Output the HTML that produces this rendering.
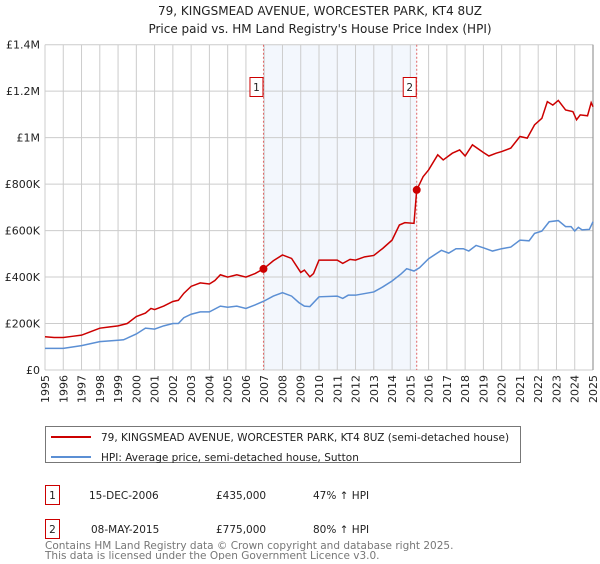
<!DOCTYPE html>
<html><head><meta charset="utf-8"><style>
body{margin:0;background:#fff;font-family:"DejaVu Sans","Liberation Sans",sans-serif;}
svg text{font-family:"DejaVu Sans","Liberation Sans",sans-serif;}
</style></head><body>
<svg id="chart" width="600" height="560" xmlns="http://www.w3.org/2000/svg">
<text x="320" y="15" text-anchor="middle" font-size="12" fill="#222">79, KINGSMEAD AVENUE, WORCESTER PARK, KT4 8UZ</text>
<text x="320" y="33" text-anchor="middle" font-size="12" fill="#222">Price paid vs. HM Land Registry's House Price Index (HPI)</text>
<g id="plot"></g>
<g>
<rect x="45.5" y="426.5" width="475" height="36" fill="#fff" stroke="#777"/>
<line x1="51" y1="437" x2="91" y2="437" stroke="#cc0000" stroke-width="2"/>
<text x="101" y="441" font-size="10.5" fill="#222">79, KINGSMEAD AVENUE, WORCESTER PARK, KT4 8UZ (semi-detached house)</text>
<line x1="51" y1="457" x2="91" y2="457" stroke="#5b8fd4" stroke-width="2"/>
<text x="101" y="461" font-size="10.5" fill="#222">HPI: Average price, semi-detached house, Sutton</text>
</g>
<g font-size="10.5" fill="#222">
<rect x="45.5" y="485.5" width="14" height="19" fill="#fff" stroke="#cc0000"/>
<text x="52.5" y="499" text-anchor="middle">1</text>
<text x="89" y="499">15-DEC-2006</text>
<text x="216" y="499">£435,000</text>
<text x="313" y="499">47% ↑ HPI</text>
<rect x="45.5" y="519.5" width="14" height="19" fill="#fff" stroke="#cc0000"/>
<text x="52.5" y="533" text-anchor="middle">2</text>
<text x="91" y="533">08-MAY-2015</text>
<text x="216" y="533">£775,000</text>
<text x="313" y="533">80% ↑ HPI</text>
</g>
<text x="45" y="549" font-size="10.5" fill="#777">Contains HM Land Registry data © Crown copyright and database right 2025.</text>
<text x="45" y="560" font-size="10.5" fill="#777" dy="-1">This data is licensed under the Open Government Licence v3.0.</text>
</svg>
<script>
const yTicks=[0,200000,400000,600000,800000,1000000,1200000,1400000];
const yTickLabels=["£0","£200K","£400K","£600K","£800K","£1M","£1.2M","£1.4M"];
const xYears=[1995,1996,1997,1998,1999,2000,2001,2002,2003,2004,2005,2006,2007,2008,2009,2010,2011,2012,2013,2014,2015,2016,2017,2018,2019,2020,2021,2022,2023,2024,2025];
const redT=[1995,1995.5,1996,1996.5,1997,1997.5,1998,1998.5,1999,1999.5,2000,2000.5,2000.8,2001,2001.5,2002,2002.3,2002.6,2003,2003.5,2004,2004.3,2004.6,2005,2005.5,2006,2006.5,2006.96,2007.5,2008,2008.5,2009,2009.2,2009.5,2009.7,2010,2011,2011.3,2011.7,2012,2012.5,2013,2013.5,2014,2014.4,2014.7,2015.2,2015.35,2015.7,2016,2016.5,2016.8,2017.3,2017.7,2018,2018.4,2019,2019.3,2019.7,2020,2020.5,2021,2021.4,2021.8,2022.2,2022.5,2022.8,2023.1,2023.5,2023.9,2024.1,2024.3,2024.7,2024.9,2025];
const redV=[143,140,140,145,150,165,180,185,190,200,230,245,265,260,275,295,300,330,360,375,370,385,410,400,410,400,415,435,470,495,480,420,430,401,415,473,473,459,476,473,487,493,524,559,624,634,631,775,832,861,926,904,933,947,921,969,936,921,933,940,955,1005,998,1055,1083,1155,1140,1160,1119,1112,1077,1098,1094,1151,1133];
const hpiT=[1995,1996,1997,1998,1999,1999.3,2000,2000.5,2001,2001.5,2002,2002.3,2002.6,2003,2003.5,2004,2004.6,2005,2005.5,2006,2006.5,2007,2007.5,2008,2008.5,2008.9,2009.2,2009.5,2010,2011,2011.3,2011.6,2012,2012.5,2013,2013.5,2014,2014.5,2014.8,2015.2,2015.5,2016,2016.7,2017.1,2017.5,2017.9,2018.2,2018.6,2019,2019.5,2020,2020.5,2021,2021.5,2021.8,2022.2,2022.6,2023.1,2023.5,2023.8,2024,2024.2,2024.4,2024.8,2025];
const hpiV=[93,93,105,122,128,130,155,180,176,190,200,200,225,240,250,250,275,270,275,265,280,297,318,333,318,290,275,273,315,318,308,322,322,329,336,358,383,414,436,426,440,479,515,503,522,522,512,536,526,512,522,529,559,556,588,598,638,643,617,617,598,614,603,605,638];
const saleT=[2006.96,2015.35];
const saleV=[435,775];
const saleLabels=["1","2"];

const L=45,R=593,T=44.7,B=370;
const x=t=>L+(t-1995)/30*(R-L);
const y=v=>B-v/1400000*(B-T);
const NS="http://www.w3.org/2000/svg";
const g=document.getElementById('plot');
function mk(tag,attrs){const e=document.createElementNS(NS,tag);for(const k in attrs)e.setAttribute(k,attrs[k]);g.appendChild(e);return e;}
let e;
e=mk('rect',{x:x(saleT[0]),y:T,width:x(saleT[1])-x(saleT[0]),height:B-T,fill:'#eef3fc',opacity:0.7});


xYears.forEach(yr=>{
 e=mk('line',{x1:x(yr),x2:x(yr),y1:T,y2:B,stroke:'#cccccc','stroke-width':1});
 
 
 const tx=x(yr)+4,ty=B+5;
 e=mk('text',{x:tx,y:ty,'font-size':11,fill:'#222','text-anchor':'end',transform:`rotate(-90 ${tx} ${ty})`});
 e.textContent=yr;
 
 
});
yTicks.forEach((v,i)=>{
 e=mk('line',{x1:L,x2:R,y1:y(v),y2:y(v),stroke:'#cccccc','stroke-width':1});
 
 
 e=mk('text',{x:40,y:y(v)+4,'font-size':11,fill:'#222','text-anchor':'end'});
 e.textContent=yTickLabels[i];
 
 
});
e=mk('line',{x1:R,x2:R,y1:T,y2:B,stroke:'#999','stroke-width':1.2});


saleT.forEach((t,i)=>{
 e=mk('line',{x1:x(t),x2:x(t),y1:T,y2:B,stroke:'#e06666','stroke-width':1,'stroke-dasharray':'2,2'});
 
 
 e=mk('rect',{x:x(t)-13.5,y:77.5,width:13,height:19,fill:'#fff',stroke:'#cc0000'});
 
 
 e=mk('text',{x:x(t)-7,y:91,'font-size':10.5,fill:'#222','text-anchor':'middle'});
 e.textContent=saleLabels[i];
 
 
});
e=mk('polyline',{points:hpiT.map((t,i)=>x(t)+','+y(hpiV[i]*1000)).join(' '),fill:'none',stroke:'#5b8fd4','stroke-width':1.5});


e=mk('polyline',{points:redT.map((t,i)=>x(t)+','+y(redV[i]*1000)).join(' '),fill:'none',stroke:'#cc0000','stroke-width':1.5});


saleT.forEach((t,i)=>{
 e=mk('circle',{cx:x(t),cy:y(saleV[i]*1000),r:4,fill:'#cc0000'});
 
 
});
</script>
</body></html>
